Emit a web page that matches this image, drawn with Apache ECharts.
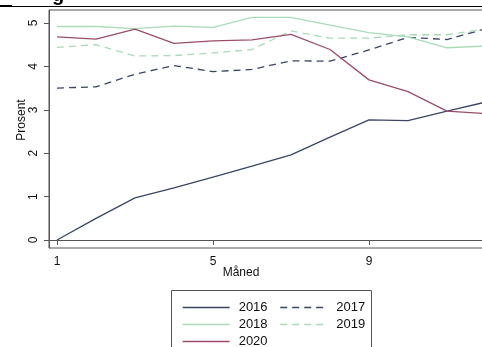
<!DOCTYPE html>
<html>
<head>
<meta charset="utf-8">
<script src="https://cdn.jsdelivr.net/npm/echarts@6/dist/echarts.min.js"></script>
<style>
html,body{margin:0;padding:0;background:#fff;overflow:hidden;width:482px;height:347px;}
#c{width:500px;height:347px;}
</style>
</head>
<body>
<div id="c"></div>
<script>
var months = [1,2,3,4,5,6,7,8,9,10,11,12];
var v2016 = [0.00,0.50,0.97,1.20,1.45,1.70,1.96,2.37,2.77,2.75,2.97,3.18];
var v2017 = [3.50,3.53,3.82,4.02,3.88,3.93,4.13,4.12,4.38,4.67,4.62,4.87];
var v2018 = [4.92,4.92,4.87,4.93,4.90,5.13,5.13,4.95,4.78,4.68,4.43,4.47];
var v2019 = [4.44,4.50,4.24,4.25,4.31,4.39,4.82,4.65,4.65,4.73,4.73,4.86];
var v2020 = [4.68,4.63,4.86,4.53,4.59,4.61,4.74,4.39,3.69,3.42,2.97,2.91];
var xTicks = [1,5,9];
var yTicks = [0,1,2,3,4,5];

var FONT = '"Liberation Sans", Arial, sans-serif';
var navy = '#3a4664';
var green = '#a9dbb8';
var maroon = '#9c4d6c';

function pts(v){ return months.map(function(m,i){ return [m, v[i]]; }); }
function mk(name, v, color, dashed){
  return {
    name: name, type: 'line', data: pts(v), symbol: 'none', silent: true,
    lineStyle: {color: color, width: 1.3, type: dashed ? [7,5] : 'solid'},
    itemStyle: {color: color}
  };
}
function leg(data, top, left){
  return {
    data: data, top: top, left: left, orient: 'horizontal',
    itemWidth: 47, itemHeight: 12, itemGap: 12,
    selectedMode: false,
    itemStyle: {opacity: 0},
    lineStyle: {width: 1.3},
    textStyle: {fontFamily: FONT, fontSize: 13, color: '#111', padding: [0,0,0,4]}
  };
}

var chart = echarts.init(document.getElementById('c'), null, {renderer: 'canvas'});
chart.setOption({
  animation: false,
  backgroundColor: '#fff',
  grid: {left: 49, top: 10, width: 445, height: 238, show: true, borderColor: '#555', borderWidth: 1, containLabel: false},
  xAxis: {
    type: 'value', min: 0.7949, max: 12.205,
    axisLine: {show: true, lineStyle: {color: '#555', width: 1}},
    axisTick: {show: true, length: 5, customValues: xTicks, lineStyle: {color: '#555'}},
    axisLabel: {customValues: xTicks, fontFamily: FONT, fontSize: 12, color: '#111', margin: 8},
    splitLine: {show: false}
  },
  yAxis: {
    type: 'value', min: -0.184, max: 5.3,
    axisLine: {show: true, lineStyle: {color: '#555', width: 1}},
    axisTick: {show: true, length: 5, customValues: yTicks, lineStyle: {color: '#555'}},
    axisLabel: {customValues: yTicks, rotate: 90, fontFamily: FONT, fontSize: 12, color: '#111', margin: 9},
    splitLine: {show: false}
  },
  legend: [
    leg(['2016','2017'], 296, 177),
    leg(['2018','2019'], 313, 177),
    leg(['2020'], 330, 177)
  ],
  series: [
    mk('2016', v2016, navy, false),
    mk('2017', v2017, navy, true),
    mk('2018', v2018, green, false),
    mk('2019', v2019, green, true),
    mk('2020', v2020, maroon, false)
  ],
  graphic: [
    {type: 'line', shape: {x1: 0, y1: 6.5, x2: 500, y2: 6.5}, style: {stroke: '#000', lineWidth: 1}},
    {type: 'rect', shape: {x: 0, y: 5, width: 12, height: 2}, style: {fill: '#000'}},
    {type: 'text', left: 52, top: -15, style: {text: 'g', font: 'bold 20px ' + FONT, fill: '#000'}},
    {type: 'text', x: 22, y: 120, rotation: Math.PI/2, style: {text: 'Prosent', font: '12px ' + FONT, fill: '#111', align: 'center', verticalAlign: 'middle'}},
    {type: 'text', x: 241, y: 273, style: {text: 'Måned', font: '12px ' + FONT, fill: '#111', align: 'center', verticalAlign: 'middle'}},
    {type: 'rect', shape: {x: 171.5, y: 290.5, width: 200, height: 70}, style: {fill: 'none', stroke: '#555', lineWidth: 1}, z: -1}
  ]
});
</script>
</body>
</html>
